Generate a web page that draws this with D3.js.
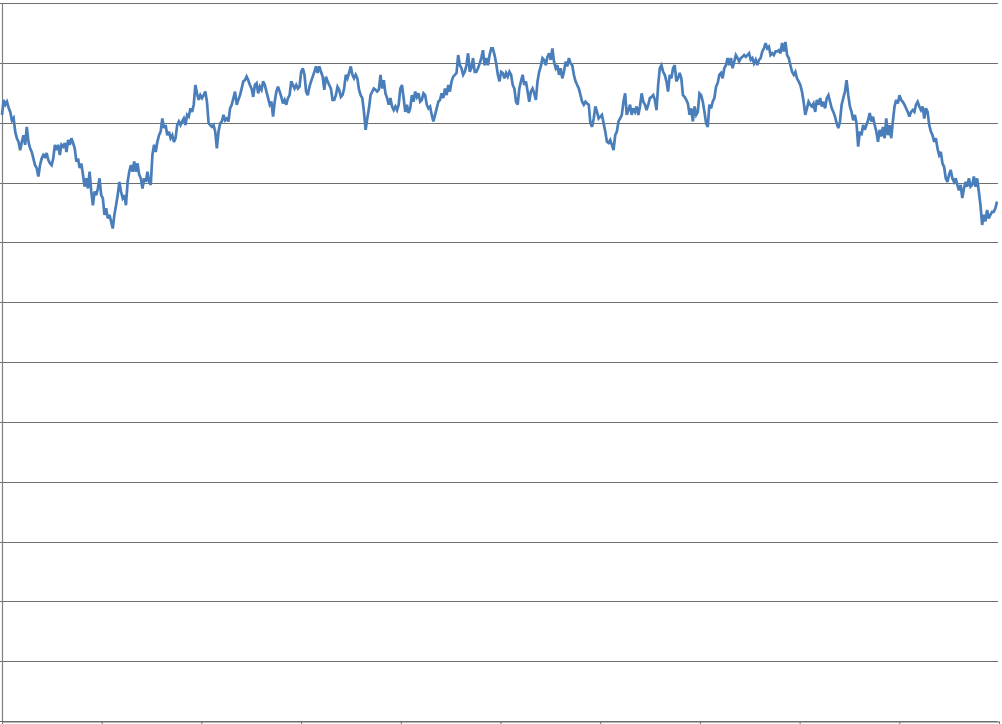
<!DOCTYPE html>
<html>
<head>
<meta charset="utf-8">
<script src="https://cdn.jsdelivr.net/npm/d3@7"></script>
<style>
    body { margin: 0; background: #fff; }
    svg { display: block; }
</style>
</head>
<body>
<svg id="chart"></svg>
<script>
// Series values, left to right (value axis 0 - 120)
var part1 = [101.3,103.8,103.0,103.5,102.5,101.8,100.4,100.8,98.5,97.4,96.8,95.4,96.8,97.9,96.3,99.3,96.8,95.7,95.1,94.0,92.9,92.4,91.0,92.9,94.0,94.6,94.3,94.9,93.8,93.2,92.9,94.0,96.3,95.4,96.3,94.6,96.3,96.0,96.6,95.1,97.1,96.3,97.4,96.6,95.7,93.5,94.0,92.4,93.2,91.3,89.3,90.7,89.0,91.8,88.5,86.2,88.5,87.9,89.0,90.7,87.9];
var part2 = [87.4,84.6,85.7,84.0,84.6,83.5,82.3,84.6,86.2,87.9,90.1,88.5,87.4,87.9,86.2,90.1,91.8,92.9,91.8,93.5,91.8,93.2,91.3,90.7,89.0,90.7,90.1,91.8,90.1,89.6,94.6,96.3,95.1,96.8,97.9,98.5,100.7,99.1,99.6,97.9,98.5,97.4,97.9,96.8,97.4,99.6,100.2,99.6,100.2,100.7,99.6,101.3,101.0,102.4,101.8,103.0,106.3,104.9,103.8,104.6,104.1];
var part3 = [104.6,105.2,103.5,99.9,99.6,99.3,99.6,98.5,95.7,98.5,99.9,100.2,101.3,100.4,100.7,100.2,102.4,103.0,104.1,105.2,103.0,103.8,104.6,105.7,106.9,107.1,107.7,107.1,106.3,105.7,104.3,106.3,106.6,104.9,106.0,105.5,106.9,106.3,105.2,104.1,103.0,103.5,101.0,103.5,105.2,106.0,105.2,104.3,103.2,103.8,103.0,104.1,104.6,106.9,106.3,105.7,106.3,105.7,106.0,108.5,109.1];
var part4 = [108.0,105.2,104.6,106.0,106.9,107.7,108.5,109.4,108.3,109.4,108.5,107.7,105.5,107.7,106.9,106.3,105.7,103.8,103.8,104.6,106.0,105.5,104.3,104.6,105.7,108.0,107.4,108.3,109.4,108.0,107.4,108.0,107.4,105.5,104.6,104.1,101.8,98.8,100.7,102.4,104.6,105.2,105.7,105.5,105.2,105.5,108.0,105.7,107.1,104.9,104.1,103.0,104.1,102.7,102.1,102.7,102.1,103.0,105.7];
var part5 = [106.3,104.1,101.8,103.0,101.6,102.4,104.6,103.5,105.2,104.3,104.9,103.5,103.8,104.9,104.6,103.0,102.4,102.7,101.3,100.2,101.3,102.4,103.5,103.8,104.9,104.1,105.7,104.6,106.3,105.2,106.9,107.7,108.0,108.3,111.3,109.6,109.1,108.0,108.5,109.6,111.6,108.5,109.1,110.8,108.5,108.5,109.1,109.9,110.8,112.1,109.6,110.8,109.6,111.3,112.4,112.4,111.3,109.9,108.0,106.9,108.5];
var part6 = [108.3,107.4,108.3,107.7,108.5,108.0,106.3,105.7,103.5,103.0,105.7,106.9,108.0,106.3,106.9,105.2,103.5,105.2,105.7,104.9,103.8,106.9,108.5,109.4,110.8,110.5,109.6,111.0,111.6,110.5,112.4,110.2,109.1,109.6,108.0,109.1,107.4,108.5,110.2,109.4,110.8,109.9,109.6,108.0,106.9,106.3,105.7,104.6,103.5,103.0,103.5,103.2,103.0,99.9,99.3,100.7,102.7,101.8,100.7,101.0];
var part7 = [101.3,99.9,98.5,96.8,96.6,97.1,96.3,95.4,97.9,98.5,100.2,100.7,101.3,103.5,104.9,101.3,102.1,103.0,101.3,102.4,101.8,102.7,101.3,102.7,104.9,103.5,103.0,102.1,103.0,104.1,104.3,104.6,103.8,102.1,106.3,109.1,109.6,108.5,108.0,106.9,105.2,108.0,107.4,109.1,109.6,106.9,107.4,108.3,107.4,104.6,104.3,103.8,103.2,101.3,102.4,100.2,102.7,101.3,101.8,104.9,104.6];
var part8 = [103.5,101.8,99.9,99.3,103.0,102.4,103.5,104.1,106.0,106.6,108.0,108.3,107.4,109.1,109.6,110.8,109.6,110.8,109.1,110.2,111.3,110.8,110.2,110.8,111.0,111.3,111.0,111.3,111.6,110.5,110.8,109.9,110.5,109.6,110.5,110.8,111.9,112.4,113.3,112.4,112.7,111.3,111.6,111.3,111.9,111.9,112.1,111.6,113.3,111.9,113.5,111.3,110.8,109.6,108.5,108.0,108.5,107.4,106.9,106.3];
var part9 = [105.2,103.5,101.3,102.4,103.5,103.0,102.7,103.2,101.8,103.8,103.0,104.1,102.7,103.5,102.4,104.1,104.6,103.5,102.4,101.8,101.0,99.9,99.1,100.2,103.0,104.1,105.2,107.1,104.6,102.7,101.8,100.4,101.3,99.9,96.0,98.5,97.9,99.6,98.8,99.6,100.4,101.6,100.2,101.0,99.6,98.5,96.8,98.8,97.7,99.3,97.4,100.7,97.9,99.6,97.4,100.2,102.7,103.8,103.2,104.6,103.8];
var part10 = [103.5,103.0,102.4,101.8,101.0,101.8,102.1,101.8,103.0,103.5,102.7,102.1,102.7,100.7,102.4,101.8,99.6,98.5,97.9,96.8,97.4,95.7,94.6,95.1,93.2,92.6,90.7,90.1,91.3,92.1,90.7,90.1,90.7,89.6,88.7,89.6,87.4,89.0,90.1,89.3,90.7,89.3,89.6,91.0,89.3,90.7,88.5,86.2,82.9,84.6,83.5,85.4,84.0,84.6,85.1,85.1,85.7,86.8];

var values = [].concat(part1, part2, part3, part4, part5, part6, part7, part8, part9, part10);

// value axis: 0 - 120, a gridline every 10
var yTicks = d3.range(0, 121, 10);
// category axis: 10 tick intervals, no labels
var xTicks = d3.range(0, 11);

var width = 1002,
    height = 724;

var plot = { left: 2, right: 999, top: 3, bottom: 721 };

var svg = d3.select('#chart')
    .attr('width', width)
    .attr('height', height);

var x = d3.scaleLinear()
    .domain([0, values.length - 1])
    .range([plot.left, 997]);

var xCat = d3.scaleLinear()
    .domain([0, 10])
    .range([plot.left, plot.right]);

var y = d3.scaleLinear()
    .domain([0, 120])
    .range([plot.bottom, plot.top]);

// gridlines (they run a little left of the axis like tick marks)
svg.append('g')
    .attr('class', 'grid')
    .selectAll('line')
    .data(yTicks)
    .enter().append('line')
    .attr('x1', 0)
    .attr('x2', 998)
    .attr('y1', function (d) { return Math.round(y(d)) + 0.5; })
    .attr('y2', function (d) { return Math.round(y(d)) + 0.5; })
    .style('stroke', '#6f6f6f')
    .style('stroke-width', 1.2);

// left axis
svg.append('line')
    .attr('x1', plot.left + 0.5)
    .attr('x2', plot.left + 0.5)
    .attr('y1', plot.top)
    .attr('y2', plot.bottom)
    .style('stroke', '#7f7f7f')
    .style('stroke-width', 1.2);

// bottom axis with tick marks
var xAxis = d3.axisBottom(xCat)
    .tickValues(xTicks)
    .tickSize(5)
    .tickSizeOuter(0)
    .tickFormat('');

svg.append('g')
    .attr('transform', 'translate(0,' + (plot.bottom + 0.5) + ')')
    .call(xAxis)
    .call(function (g) {
        g.selectAll('line, path').style('stroke', '#6f6f6f');
    });

// the series
var line = d3.line()
    .x(function (d, i) { return x(i); })
    .y(function (d) { return y(d); });

svg.append('path')
    .datum(values)
    .attr('d', line)
    .style('fill', 'none')
    .style('stroke', '#4A7EBB')
    .style('stroke-width', 2.7)
    .style('stroke-linejoin', 'miter')
    .style('stroke-miterlimit', 3);
</script>
</body>
</html>
